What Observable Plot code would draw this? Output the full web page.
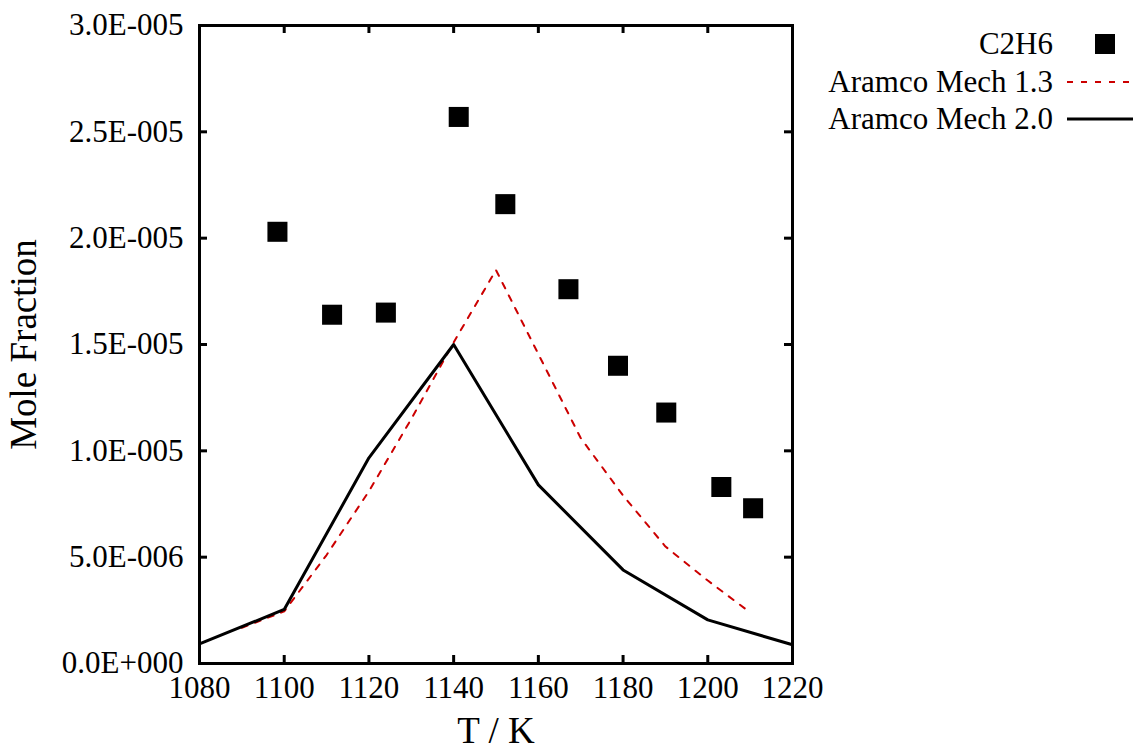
<!DOCTYPE html>
<html><head><meta charset="utf-8">
<script src="https://cdn.jsdelivr.net/npm/d3@7"></script>
<script src="https://cdn.jsdelivr.net/npm/@observablehq/plot@0.6"></script>
<style>
body{margin:0;background:#fff;}
#wrap{position:relative;width:1146px;height:749px;font-family:"Liberation Serif",serif;}
.lrow{position:absolute;left:0;width:1146px;height:36px;}
.ltxt{position:absolute;right:93px;top:0;line-height:36px;font-size:31px;color:#000;white-space:nowrap;}
.lsw{position:absolute;left:1063px;top:0;}
</style></head><body><div id="wrap"></div>
<script>
// Experimental data: C2H6
const expT = [1098.4, 1111.3, 1124.0, 1141.2, 1152.2, 1167.1, 1178.8, 1190.2, 1203.2, 1210.7];
const expC2H6 = [2.03e-5, 1.64e-5, 1.65e-5, 2.57e-5, 2.16e-5, 1.76e-5, 1.40e-5, 1.18e-5, 8.3e-6, 7.3e-6];
// Aramco Mech 1.3 (dashed red)
const mech13T = [1090, 1100, 1110, 1120, 1130, 1140, 1150, 1170, 1180, 1190, 1200, 1210];
const mech13 = [1.68e-6, 2.45e-6, 5.1e-6, 8.1e-6, 11.5e-6, 15.1e-6, 18.5e-6, 10.6e-6, 7.9e-6, 5.5e-6, 3.9e-6, 2.4e-6];
// Aramco Mech 2.0 (solid black)
const mech20T = [1080, 1100, 1120, 1140, 1160, 1180, 1200, 1220];
const mech20 = [0.92e-6, 2.54e-6, 9.67e-6, 15.0e-6, 8.4e-6, 4.4e-6, 2.05e-6, 0.88e-6];
// Ticks
const xTicks = [1080, 1100, 1120, 1140, 1160, 1180, 1200, 1220];
const yTicks = [0, 5e-6, 1e-5, 1.5e-5, 2e-5, 2.5e-5, 3e-5];
const yTickLabels = ["0.0E+000", "5.0E-006", "1.0E-005", "1.5E-005", "2.0E-005", "2.5E-005", "3.0E-005"];
// Legend
const legendNames = ["C2H6", "Aramco Mech 1.3", "Aramco Mech 2.0"];

const expData = expT.map((t, i) => ({t, v: expC2H6[i]}));
const m13 = mech13T.map((t, i) => ({t, v: mech13[i]}));
const m20 = mech20T.map((t, i) => ({t, v: mech20[i]}));

const W = 1146, H = 749, mL = 199, mR = 354, mT = 25, mB = 86;
const innerW = W - mL - mR, innerH = H - mT - mB, tk = 8;

const plot = Plot.plot({
  width: W, height: H, marginLeft: mL, marginRight: mR, marginTop: mT, marginBottom: mB,
  style: {fontFamily: "Liberation Serif", fontSize: "31px", background: "#fff", color: "#000"},
  x: {domain: [1080, 1220]},
  y: {domain: [0, 3e-5]},
  marks: [
    Plot.line(m13, {x: "t", y: "v", stroke: "#cc0000", strokeWidth: 2, strokeDasharray: "6,8"}),
    Plot.line(m20, {x: "t", y: "v", stroke: "#000", strokeWidth: 3}),
    Plot.dot(expData, {x: "t", y: "v", symbol: "square", r: 11.3, fill: "#000", stroke: "none"}),
    // inward ticks on all four sides
    Plot.ruleX(xTicks, {x: d => d, insetTop: innerH - tk, stroke: "#000", strokeWidth: 3}),
    Plot.ruleX(xTicks, {x: d => d, insetBottom: innerH - tk, stroke: "#000", strokeWidth: 3}),
    Plot.ruleY(yTicks, {y: d => d, insetRight: innerW - tk, stroke: "#000", strokeWidth: 3}),
    Plot.ruleY(yTicks, {y: d => d, insetLeft: innerW - tk, stroke: "#000", strokeWidth: 3}),
    Plot.axisX({anchor: "bottom", ticks: xTicks, tickSize: 0, tickPadding: 12, tickFormat: d => String(d),
      fontSize: 31, label: "T / K", labelAnchor: "center", labelOffset: 79, labelArrow: "none"}),
    Plot.axisY({anchor: "left", ticks: yTicks, tickSize: 0, tickPadding: 16,
      tickFormat: d => yTickLabels[yTicks.indexOf(d)] ?? "",
      fontSize: 31, label: "Mole Fraction", labelAnchor: "center", labelOffset: 190, labelArrow: "none"}),
    Plot.frame({stroke: "#000", strokeWidth: 3})
  ]
});
const wrap = document.getElementById("wrap");
wrap.appendChild(plot);
plot.querySelectorAll("[aria-label$='axis label'] text").forEach(t => t.setAttribute("font-size", "37"));

// legend (HTML overlay in the right margin)
const rowCenters = [44, 82, 119];
const swatches = [
  `<svg width="80" height="36"><rect x="32" y="8" width="20" height="20" fill="#000"/></svg>`,
  `<svg width="80" height="36"><line x1="4" x2="70" y1="18" y2="18" stroke="#cc0000" stroke-width="2" stroke-dasharray="6,8"/></svg>`,
  `<svg width="80" height="36"><line x1="4" x2="70" y1="18" y2="18" stroke="#000" stroke-width="3"/></svg>`
];
legendNames.forEach((name, i) => {
  const row = document.createElement("div");
  row.className = "lrow";
  row.style.top = (rowCenters[i] - 18) + "px";
  row.innerHTML = `<span class="ltxt">${name}</span><span class="lsw">${swatches[i]}</span>`;
  wrap.appendChild(row);
});
</script></body></html>
